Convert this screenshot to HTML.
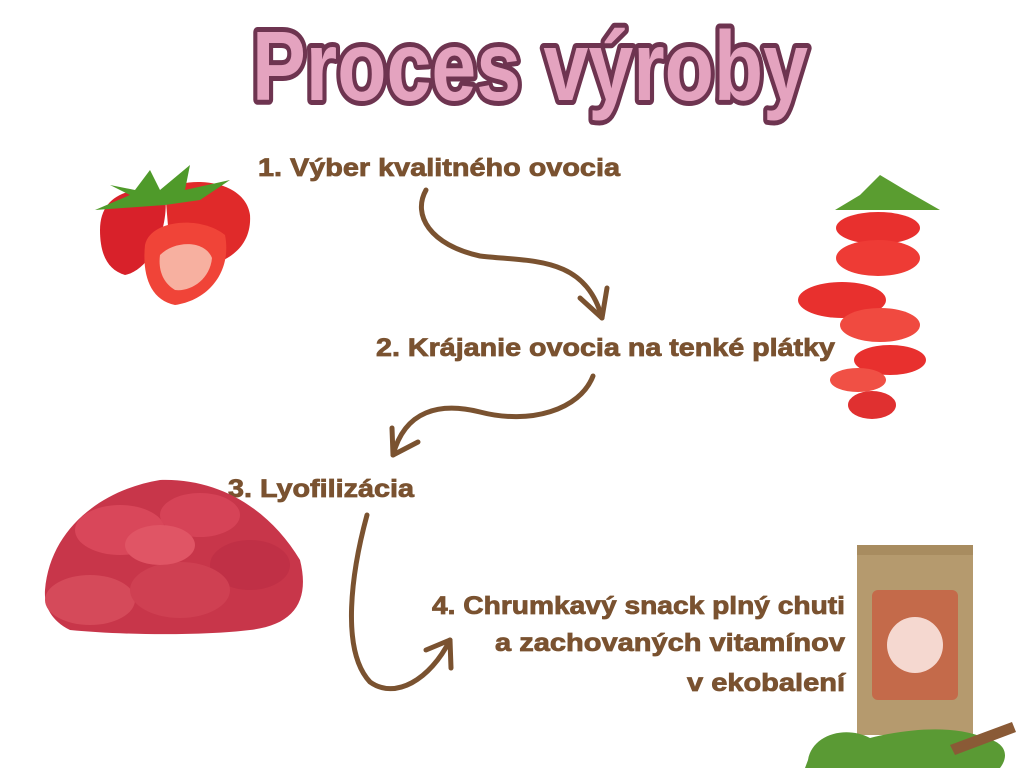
<!DOCTYPE html>
<html><head><meta charset="utf-8"><style>
html,body{margin:0;padding:0;background:#fff;}
body{width:1024px;height:768px;overflow:hidden;position:relative;}
svg{position:absolute;left:0;top:0;}
.t{font-family:"Liberation Sans",sans-serif;font-weight:bold;fill:#7a5230;font-size:25px;stroke:#7a5230;stroke-width:0.8px;}
</style></head><body>
<svg width="1024" height="768" viewBox="0 0 1024 768">
<text x="252" y="100" font-family="Liberation Sans, sans-serif" font-weight="bold" font-size="98" textLength="556" lengthAdjust="spacingAndGlyphs" fill="#e4a3bf" stroke="#6e3450" stroke-width="10" stroke-linejoin="round" paint-order="stroke">Proces výroby</text>

<text class="t" x="258" y="176" textLength="362" lengthAdjust="spacingAndGlyphs">1. Výber kvalitného ovocia</text>
<text class="t" x="376" y="356" textLength="459" lengthAdjust="spacingAndGlyphs">2. Krájanie ovocia na tenké plátky</text>
<text class="t" x="228" y="497" textLength="186" lengthAdjust="spacingAndGlyphs">3. Lyofilizácia</text>
<text class="t" x="845" y="614" text-anchor="end" textLength="413" lengthAdjust="spacingAndGlyphs">4. Chrumkavý snack plný chuti</text>
<text class="t" x="845" y="651" text-anchor="end" textLength="350" lengthAdjust="spacingAndGlyphs">a zachovaných vitamínov</text>
<text class="t" x="845" y="691" text-anchor="end" textLength="158" lengthAdjust="spacingAndGlyphs">v ekobalení</text>

<g fill="none" stroke="#7a5230" stroke-width="5" stroke-linecap="round" stroke-linejoin="round">
<path d="M426 190 C412 215 430 245 480 256 C530 262 585 255 602 318"/>
<path d="M580 298 L602 318 L607 288"/>
<path d="M593 376 C580 410 530 425 480 412 C440 402 405 410 393 455"/>
<path d="M392 428 L393 455 L418 442"/>
<path d="M367 515 C352 570 340 650 370 682 C395 700 430 680 450 640"/>
<path d="M426 650 L450 640 L451 668"/>
</g>

<g>
<path d="M100 230 C100 195 130 185 165 192 C170 230 150 270 125 275 C108 270 100 255 100 230Z" fill="#d8212a"/>
<path d="M165 190 C190 175 245 180 250 215 C252 245 230 260 210 265 L170 250Z" fill="#e02a2a"/>
<path d="M145 245 C150 220 200 215 225 235 C232 270 210 300 175 305 C150 300 142 275 145 245Z" fill="#f04438"/>
<path d="M160 255 C175 240 205 240 212 258 C210 280 190 292 175 290 C163 283 158 270 160 255Z" fill="#f7b0a0"/>
<path d="M95 210 L130 195 L110 185 L135 190 L150 170 L160 190 L190 165 L185 190 L230 180 L200 200 L165 205Z" fill="#4f9a2a"/>
</g>

<g fill="#e8302e">
<path d="M835 210 L940 210 L905 190 L880 175 L860 195Z" fill="#5a9d30"/>
<ellipse cx="878" cy="228" rx="42" ry="16"/>
<ellipse cx="878" cy="258" rx="42" ry="18" fill="#ee3b35"/>
<ellipse cx="842" cy="300" rx="44" ry="18"/>
<ellipse cx="880" cy="325" rx="40" ry="17" fill="#f04a40"/>
<ellipse cx="890" cy="360" rx="36" ry="15"/>
<ellipse cx="858" cy="380" rx="28" ry="12" fill="#f05045"/>
<ellipse cx="872" cy="405" rx="24" ry="14" fill="#e03030"/>
</g>

<g>
<path d="M45 590 C50 530 100 490 160 480 C220 478 270 510 300 560 C310 600 295 625 250 630 C200 636 120 635 70 630 C50 620 44 605 45 590Z" fill="#c8364a"/>
<ellipse cx="120" cy="530" rx="45" ry="25" fill="#d9475a"/>
<ellipse cx="200" cy="515" rx="40" ry="22" fill="#d64357"/>
<ellipse cx="250" cy="565" rx="40" ry="25" fill="#c03046"/>
<ellipse cx="90" cy="600" rx="45" ry="25" fill="#d54a5a"/>
<ellipse cx="180" cy="590" rx="50" ry="28" fill="#cf4052"/>
<ellipse cx="160" cy="545" rx="35" ry="20" fill="#e05565"/>
</g>

<g>
<path d="M857 545 L973 545 L973 735 L857 735Z" fill="#b59a6e"/>
<rect x="857" y="545" width="116" height="10" fill="#a88c60"/>
<rect x="872" y="590" width="86" height="110" rx="6" fill="#c46a4a"/>
<circle cx="915" cy="645" r="28" fill="#f5d8d0"/>
<path d="M808 760 C812 735 845 725 870 738 C910 728 955 725 985 738 C1005 742 1010 755 1000 768 L805 768Z" fill="#5a9a34"/>
<path d="M950 745 L1012 722 L1016 732 L955 755Z" fill="#8a5a36"/>
</g>
</svg>
</body></html>
